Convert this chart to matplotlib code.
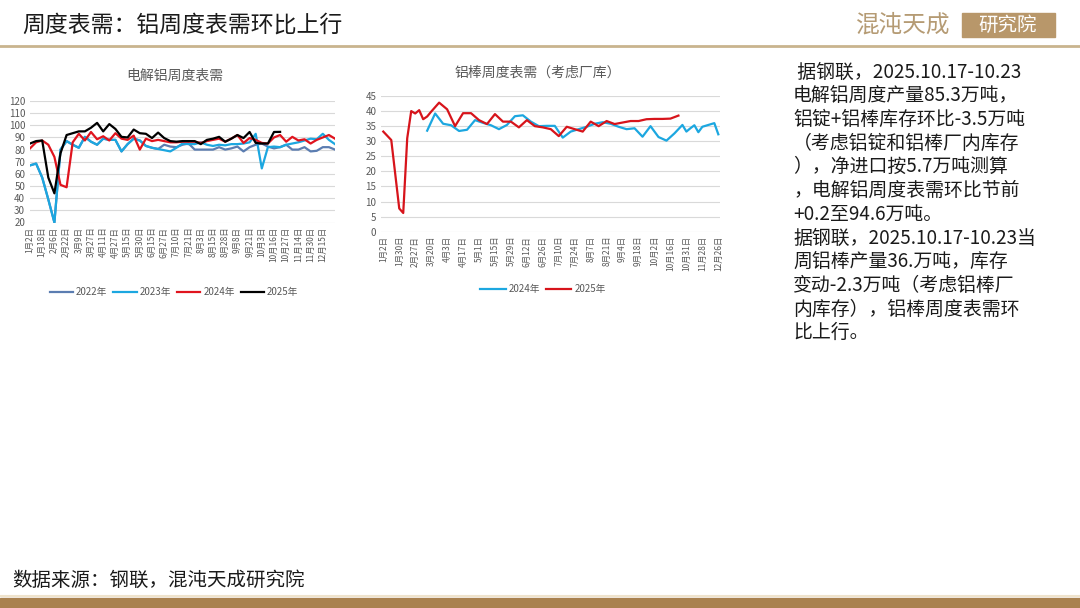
import matplotlib
matplotlib.use("Agg")
import matplotlib.pyplot as plt
from matplotlib.patches import Rectangle

plt.rcParams['font.family'] = ['Noto Sans CJK SC', 'DejaVu Sans']

# ---- chart 1: 电解铝周度表需 ----
c1_ticks = ["1月2日", "1月18日", "2月6日", "2月22日", "3月9日", "3月27日", "4月11日",
            "4月27日", "5月15日", "5月30日", "6月15日", "6月27日", "7月10日", "7月21日",
            "8月3日", "8月15日", "8月28日", "9月8日", "9月21日", "10月3日", "10月16日",
            "10月27日", "11月14日", "11月30日", "12月15日"]
y2023 = [67, 68.5, 57, 39, 20, 80, 87, 84, 81.5, 90.5, 86.5, 84, 89, 88, 88, 78.5, 84.5,
         89, 87.5, 83, 81.5, 80.5, 79.5, 78.5, 81.5, 85, 84.5, 84.5, 86, 84, 83, 84, 83.5,
         84.5, 84.5, 85, 86, 93, 64.5, 82, 82.5, 82, 84, 85, 86, 87.5, 89, 88.5, 93, 88, 84.5]
y2022 = y2023[:22] + [84, 82.5, 82, 84, 85, 80, 80, 80, 80, 82, 80, 81, 82.5, 78.5, 82, 84,
                      85, 82.5, 81, 82, 84, 80, 80, 82, 78.5, 79, 82, 82, 80]
y2024 = [81, 86, 87.5, 84, 74, 51, 49, 86, 93, 87.5, 94.5, 88.5, 91, 87.5, 93.5, 89, 88,
         91.5, 80, 89, 87, 88, 87, 86, 86, 86.5, 86.5, 86.5, 85.5, 87, 88, 89, 86.5, 89, 92,
         85.5, 89.5, 88, 85.5, 85, 90, 92, 86.5, 90.5, 87.5, 88.5, 85, 88, 90, 92, 89]
y2025 = [85, 87, 87.5, 57, 44, 77, 92, 93.5, 95, 95, 98, 102, 95, 101, 97, 90.5, 90, 96.5,
         93.5, 93, 89.5, 94, 89.5, 87, 86.5, 87, 87, 87, 84.5, 88, 89, 90.5, 86.5, 89, 92,
         89.5, 94.5, 85.5, 85, 85, 94.5, 94.6]

# ---- chart 2: 铝棒周度表需（考虑厂库） ----
c2_ticks = ["1月2日", "1月30日", "2月27日", "3月20日", "4月3日", "4月17日", "5月1日",
            "5月15日", "5月29日", "6月12日", "6月26日", "7月10日", "7月24日", "8月7日",
            "8月21日", "9月4日", "9月18日", "10月2日", "10月16日", "10月31日", "11月28日",
            "12月26日"]
rod24_x = [11, 13, 15, 17, 19, 21, 23, 25, 27, 29, 31, 33, 35, 37, 39, 41, 43, 45, 47, 49,
           51, 53, 55, 57, 59, 61, 63, 65, 67, 69, 71, 73, 75, 76, 77, 78, 79, 80, 81, 82,
           83, 84]
rod24 = [33.5, 39.2, 35.8, 35.3, 33.4, 33.8, 37, 36.1, 35.3, 34, 35.4, 38.3, 38.6, 36.5,
         35, 35.1, 35.1, 31.2, 33.2, 34, 34.8, 35.8, 36.3, 35.8, 34.8, 34, 34.3, 31.5, 35,
         31.4, 30.2, 32.6, 35.4, 33.2, 34.3, 35.3, 33, 34.8, 35.2, 35.6, 36, 32.3]
rod25_x = [0, 2, 4, 5, 6, 7, 8, 9, 10, 11, 12, 14, 16, 18, 20, 22, 24, 26, 28, 30, 32, 34,
           36, 38, 40, 42, 44, 46, 48, 50, 52, 54, 56, 58, 60, 62, 64, 66, 68, 70, 72, 74]
rod25 = [33.2, 30.4, 7.7, 6.2, 31, 40, 39.2, 40.3, 37.3, 38.2, 39.8, 42.8, 40.6, 35, 39.3,
         39.3, 37, 35.7, 39, 36.5, 36.5, 34.6, 37, 35, 34.6, 34, 31.7, 34.8, 34, 33.2, 36.5,
         35, 36.7, 35.7, 36.2, 36.7, 36.7, 37.3, 37.4, 37.4, 37.5, 38.5]

notes = [" 据钢联，2025.10.17-10.23",
         "电解铝周度产量85.3万吨，",
         "铝锭+铝棒库存环比-3.5万吨",
         "（考虑铝锭和铝棒厂内库存",
         "），净进口按5.7万吨测算",
         "，电解铝周度表需环比节前",
         "+0.2至94.6万吨。",
         "据钢联，2025.10.17-10.23当",
         "周铝棒产量36.万吨，库存",
         "变动-2.3万吨（考虑铝棒厂",
         "内库存），铝棒周度表需环",
         "比上行。"]

W, H = 1080, 608
fig = plt.figure(figsize=(10.8, 6.08), dpi=100)
grid_c = '#D9D9D9'
txt_c = '#595959'


def style(ax):
    for s in ax.spines.values():
        s.set_visible(False)
    ax.grid(axis='y', color=grid_c, lw=0.8)
    ax.set_axisbelow(True)
    ax.tick_params(length=0, colors=txt_c, labelsize=7)
    ax.tick_params(axis='x', labelsize=6, pad=3)


# header
fig.text(22 / W, 1 - 25 / H, "周度表需：铝周度表需环比上行", fontsize=16.5, va='center',
         color='#1a1a1a')
fig.add_artist(plt.Line2D([0, 1], [1 - 46 / H, 1 - 46 / H], color='#C9B48E', lw=2))
fig.text(903 / W, 1 - 25 / H, "混沌天成", fontsize=17, va='center', ha='center',
         color='#B59B74')
fig.add_artist(Rectangle((962 / W, 1 - 37 / H), 93 / W, 24 / H, color='#B8976A',
                         transform=fig.transFigure))
fig.text(1008 / W, 1 - 25 / H, "研究院", fontsize=14, va='center', ha='center', color='white')

# footer
fig.text(12 / W, 1 - 580 / H, "数据来源：钢联，混沌天成研究院", fontsize=14, va='center',
         color='#1a1a1a')
fig.add_artist(plt.Line2D([0, 1], [1 - 596 / H, 1 - 596 / H], color='#EFE3CC', lw=1.5))
fig.add_artist(Rectangle((0, 0), 1, 10 / H, color='#A9814F', transform=fig.transFigure))

# chart 1
ax1 = fig.add_axes([30 / W, 1 - 222.5 / H, 305 / W, 121.5 / H])
style(ax1)
ax1.plot(range(len(y2022)), y2022, color='#5B7DB1', lw=1.6, label='2022年')
ax1.plot(range(len(y2023)), y2023, color='#1CA7E0', lw=1.6, label='2023年')
ax1.plot(range(len(y2024)), y2024, color='#E0141E', lw=1.6, label='2024年')
ax1.plot(range(len(y2025)), y2025, color='black', lw=1.6, label='2025年')
ax1.set_ylim(20, 120)
ax1.set_yticks(range(20, 121, 10))
ax1.set_xlim(0, 50)
ax1.set_xticks(range(0, 2 * len(c1_ticks), 2))
ax1.set_xticklabels(c1_ticks, rotation=90)
fig.text(175 / W, 1 - 76 / H, "电解铝周度表需", fontsize=10, ha='center', va='center',
         color=txt_c)
ax1.legend(loc='center', bbox_to_anchor=(174 / W, 1 - 292 / H), bbox_transform=fig.transFigure,
           ncol=4, frameon=False, fontsize=7, handlelength=2.4, handletextpad=0.3,
           columnspacing=0.6, labelcolor=txt_c)

# chart 2
ax2 = fig.add_axes([381.3 / W, 1 - 231.7 / H, 339 / W, 135.7 / H])
style(ax2)
ax2.plot(rod24_x, rod24, color='#1CA7E0', lw=1.6, label='2024年')
ax2.plot(rod25_x, rod25, color='#D7141B', lw=1.6, label='2025年')
ax2.set_ylim(0, 45)
ax2.set_yticks(range(0, 46, 5))
ax2.set_xlim(-0.5, 84.5)
ax2.set_xticks(range(0, 4 * len(c2_ticks), 4))
ax2.set_xticklabels(c2_ticks, rotation=90)
fig.text(538 / W, 1 - 73 / H, "铝棒周度表需（考虑厂库）", fontsize=10, ha='center',
         va='center', color=txt_c)
ax2.legend(loc='center', bbox_to_anchor=(543 / W, 1 - 289 / H), bbox_transform=fig.transFigure,
           ncol=2, frameon=False, fontsize=7, handlelength=2.6, handletextpad=0.3,
           columnspacing=0.6, labelcolor=txt_c)

# notes
for k, line in enumerate(notes):
    fig.text(793 / W, 1 - (72 + k * 23.7) / H, line, fontsize=13.6, va='center', color='#1a1a1a')

fig.savefig("out.png", dpi=100)
